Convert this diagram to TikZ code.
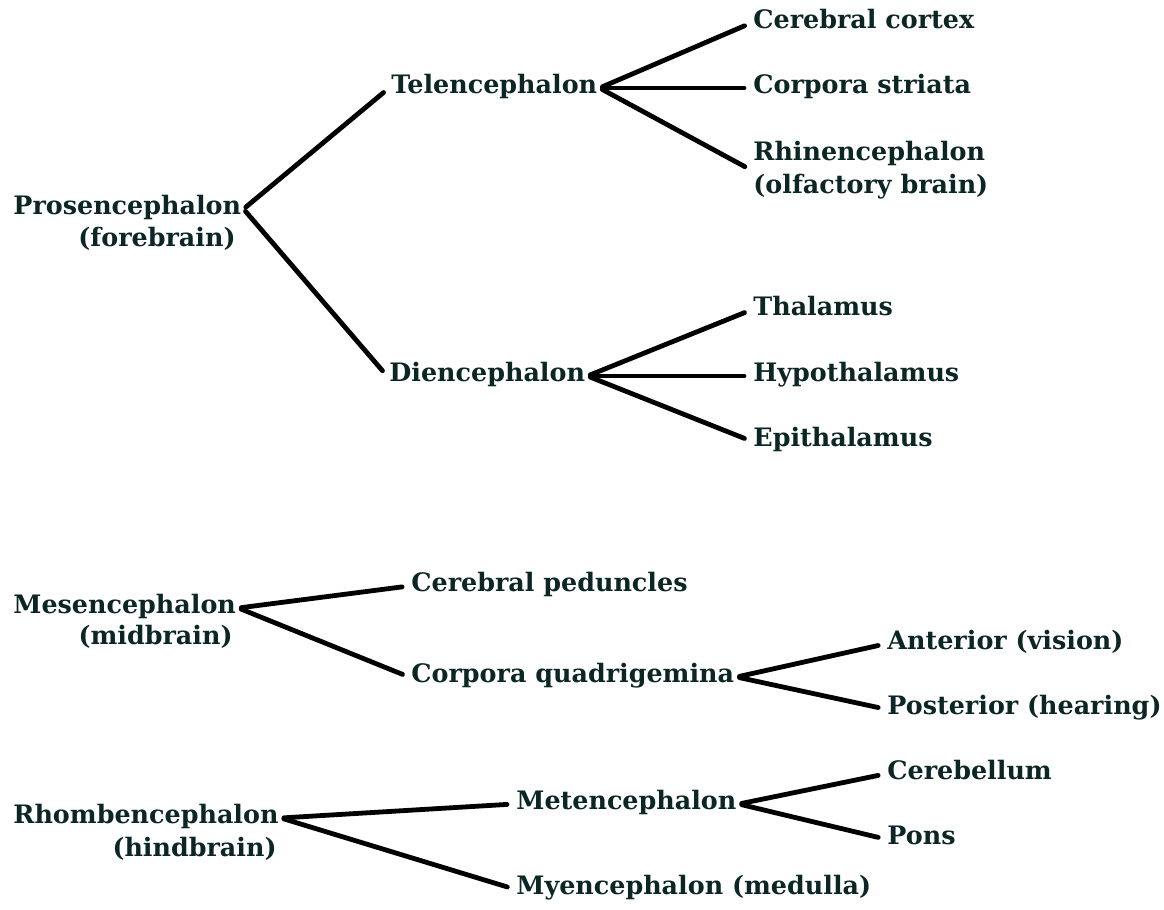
\documentclass[tikz,border=0pt]{standalone}
\usepackage{fontspec}
\setmainfont{DejaVu Serif}
\usetikzlibrary{arrows}
\definecolor{inkc}{RGB}{12,38,38}

\begin{document}
\begin{tikzpicture}[x=0.5pt,y=-0.5pt,line width=2.4pt,line cap=round,
 shorten <=1.5pt,shorten >=3.5pt,
 part node/.style={anchor=west,inner sep=0pt,text=inkc,
   font=\bfseries\fontsize{12.7}{16.8}\selectfont,
   text height=0.75em,text depth=0.25em},
 note node/.style={part node,anchor=east}]
\useasboundingbox (0,0) rectangle (1164,910);

% forebrain
\node[part node](Pro) at (11,209) {Prosencephalon};
\node[note node](ProN) at (238,241) {(forebrain)};
\node[part node](Tel) at (389,88) {Telencephalon};
\node[part node](Die) at (387,376) {Diencephalon};
\node[part node](Cor) at (751,23) {Cerebral cortex};
\node[part node](Str) at (751,88) {Corpora striata};
\node[part node,align=left,text height=,text depth=](Rhi) at (751,170) {Rhinencephalon\\(olfactory brain)};
\foreach \s/\t/\y in {Tha/Thalamus/310, Hyp/Hypothalamus/376, Epi/Epithalamus/441}{
    \node[part node](\s) at (751,\y) {\t};}

% midbrain
\node[part node](Mes) at (11,608) {Mesencephalon};
\node[note node](MesN) at (235,639) {(midbrain)};
\node[part node](Ped) at (409,586) {Cerebral peduncles};
\node[part node](Qua) at (409,677) {Corpora quadrigemina};
\node[part node](Ant) at (885,644) {Anterior (vision)};
\node[part node](Pos) at (885,709) {Posterior (hearing)};

% hindbrain
\node[part node](Rho) at (11,818) {Rhombencephalon};
\node[note node](RhoN) at (279,851) {(hindbrain)};
\node[part node](Met) at (514,804) {Metencephalon};
\node[part node](Mye) at (514,889) {Myencephalon (medulla)};
\node[part node](Cbl) at (885,774) {Cerebellum};
\node[part node](Pon) at (885,839) {Pons};

\path[black]
  (Pro.east) edge (Tel.west)
             edge (Die.west)
  (Tel.east) edge (Cor.west)
             edge (Str.west)
             edge (Rhi.west)
  (Die.east) edge (Tha.west)
             edge (Hyp.west)
             edge (Epi.west)
  (Mes.east) edge (Ped.west)
             edge (Qua.west)
  (Qua.east) edge (Ant.west)
             edge (Pos.west)
  (Rho.east) edge (Met.west)
             edge (Mye.west)
  (Met.east) edge (Cbl.west)
             edge (Pon.west);
\end{tikzpicture}
\end{document}
